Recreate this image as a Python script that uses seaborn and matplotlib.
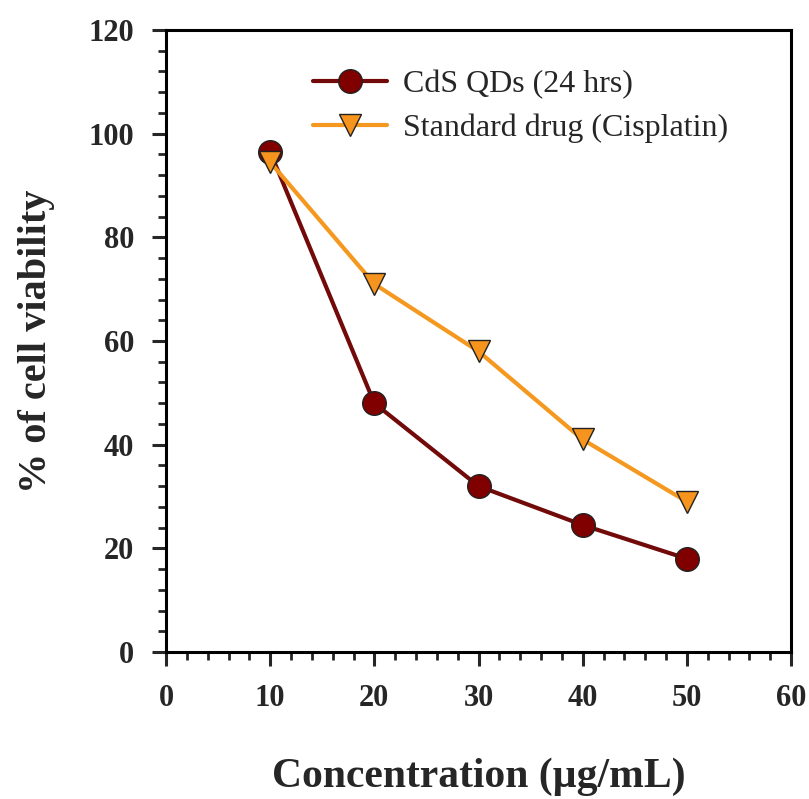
import matplotlib
matplotlib.use('Agg')
import matplotlib.pyplot as plt
import seaborn as sns
import pandas as pd
from matplotlib.ticker import MultipleLocator

# values
concentration = [10, 20, 30, 40, 50]
cds_viability = [96.5, 48.0, 32.0, 24.5, 18.0]
cisplatin_viability = [94.5, 71.0, 58.0, 41.0, 29.0]
series_names = ['CdS QDs (24 hrs)', 'Standard drug (Cisplatin)']

df = pd.DataFrame({
    'conc': concentration * 2,
    'viability': cds_viability + cisplatin_viability,
    'series': [series_names[0]] * 5 + [series_names[1]] * 5,
})

sns.set_style('ticks')
plt.rcParams['font.family'] = ['Liberation Serif', 'DejaVu Serif']

fig = plt.figure(figsize=(8.09, 7.99), dpi=100, facecolor='white')
ax = fig.add_axes([166 / 809, 1 - 652 / 799, (791 - 166) / 809, (652 - 30) / 799])

styles = {
    series_names[0]: dict(color='#720a0a', marker='o', markersize=17,
                          markerfacecolor='#800000'),
    series_names[1]: dict(color='#f4981f', marker='v', markersize=16,
                          markerfacecolor='#f7941d'),
}
for name in series_names:
    sub = df[df['series'] == name]
    st = styles[name]
    sns.lineplot(data=sub, x='conc', y='viability', ax=ax, label=name,
                 color=st['color'], linewidth=3.0, marker=st['marker'],
                 markersize=st['markersize'], markerfacecolor=st['markerfacecolor'],
                 markeredgecolor='#222222', markeredgewidth=1.0)

ax.set_xlim(0, 60)
ax.set_ylim(0, 120)
ax.xaxis.set_major_locator(MultipleLocator(10))
ax.xaxis.set_minor_locator(MultipleLocator(2))
ax.yaxis.set_major_locator(MultipleLocator(20))
ax.yaxis.set_minor_locator(MultipleLocator(4))
ax.tick_params(which='major', direction='out', length=10, width=2.2,
               labelsize=22, pad=13)
ax.tick_params(which='minor', direction='out', length=6, width=2.0)
for lab in ax.get_xticklabels() + ax.get_yticklabels():
    lab.set_fontweight('bold')
for sp in ax.spines.values():
    sp.set_linewidth(2.2)
    sp.set_color('black')

ax.set_xlabel('Concentration (µg/mL)', fontsize=30, fontweight='bold')
ax.set_ylabel('% of cell viability', fontsize=29, fontweight='bold')
ax.xaxis.set_label_coords(0.5, -0.17)
ax.yaxis.set_label_coords(-0.178, 0.5)

ax.legend(loc='upper left', bbox_to_anchor=(0.215, 0.957), frameon=False,
          fontsize=23, handlelength=2.3, handletextpad=0.5, labelspacing=0.45,
          borderaxespad=0)

fig.savefig('out.png', dpi=100, facecolor='white')
